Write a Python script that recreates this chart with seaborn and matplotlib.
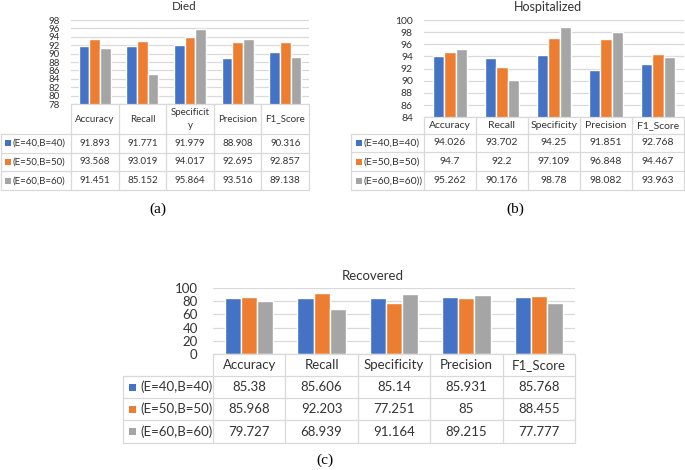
import numpy as np
import pandas as pd
import matplotlib
matplotlib.use("Agg")
import matplotlib.pyplot as plt
import seaborn as sns
from matplotlib.patches import Rectangle

# data
metrics = ["Accuracy", "Recall", "Specificity", "Precision", "F1_Score"]
configs = ["(E=40,B=40)", "(E=50,B=50)", "(E=60,B=60)"]
colors = ["#4472C4", "#ED7D31", "#A5A5A5"]

died_e40 = [91.893, 91.771, 91.979, 88.908, 90.316]
died_e50 = [93.568, 93.019, 94.017, 92.695, 92.857]
died_e60 = [91.451, 85.152, 95.864, 93.516, 89.138]

hosp_e40 = [94.026, 93.702, 94.25, 91.851, 92.768]
hosp_e50 = [94.7, 92.2, 97.109, 96.848, 94.467]
hosp_e60 = [95.262, 90.176, 98.78, 98.082, 93.963]

rec_e40 = [85.38, 85.606, 85.14, 85.931, 85.768]
rec_e50 = [85.968, 92.203, 77.251, 85, 88.455]
rec_e60 = [79.727, 68.939, 91.164, 89.215, 77.777]

W, H = 685, 470
grid_c = "#D9D9D9"
txt_c = "#333333"

sns.set_style("white")
plt.rcParams["font.family"] = ["Lato", "DejaVu Sans"]

fig = plt.figure(figsize=(W / 100, H / 100), dpi=100)

# overlay in pixel coordinates for the data tables and captions
tab = fig.add_axes([0, 0, 1, 1], zorder=5)
tab.set_xlim(0, W)
tab.set_ylim(H, 0)
tab.axis("off")
tab.patch.set_alpha(0)


def px_rect(x0, y0, x1, y1):
    return [x0 / W, 1 - y1 / H, (x1 - x0) / W, (y1 - y0) / H]


def draw_panel(title, title_xy, title_fs, series, heads, labels, ylo, yhi, ystep,
               box, rows_y, lab_x0, fs, tick_pad, sq):
    x0, y_top, x1 = box
    y_base = rows_y[0]
    ax = fig.add_axes(px_rect(x0, y_top, x1, y_base))
    df = pd.DataFrame({
        "metric": metrics * 3,
        "config": np.repeat(configs, len(metrics)),
        "value": np.concatenate(series),
    })
    sns.barplot(data=df, x="metric", y="value", hue="config", palette=colors,
                saturation=1, width=0.67, errorbar=None, legend=False, ax=ax)
    ax.set_xlim(-0.5, len(metrics) - 0.5)
    ax.set_ylim(ylo, yhi)
    ax.set_yticks(np.arange(ylo, yhi + 0.01, ystep))
    ax.yaxis.grid(True, color=grid_c, lw=0.9)
    ax.set_axisbelow(True)
    for s in ax.spines.values():
        s.set_visible(False)
    ax.set_xticks([])
    ax.set_xlabel("")
    ax.set_ylabel("")
    ax.tick_params(axis="y", length=0, pad=tick_pad, labelsize=fs, labelcolor=txt_c)
    ax.patch.set_alpha(0)

    tab.text(title_xy[0], title_xy[1], title, ha="center", va="center",
             fontsize=title_fs, color=txt_c)

    # data table under the chart
    colw = (x1 - x0) / len(metrics)
    edges = [x0 + k * colw for k in range(len(metrics) + 1)]
    lw = 0.9
    tab.plot([x0, x1], [rows_y[0], rows_y[0]], color=grid_c, lw=lw)
    for y in rows_y[1:]:
        tab.plot([lab_x0, x1], [y, y], color=grid_c, lw=lw)
    for x in edges:
        tab.plot([x, x], [rows_y[0], rows_y[-1]], color=grid_c, lw=lw)
    tab.plot([lab_x0, lab_x0], [rows_y[1], rows_y[-1]], color=grid_c, lw=lw)

    hy = (rows_y[0] + rows_y[1]) / 2
    for k, h in enumerate(heads):
        tab.text((edges[k] + edges[k + 1]) / 2, hy, h, ha="center", va="center",
                 fontsize=fs, color=txt_c, linespacing=1.6)
    for r, vals in enumerate(series):
        cy = (rows_y[r + 1] + rows_y[r + 2]) / 2
        tab.add_patch(Rectangle((lab_x0 + sq[0], cy - sq[1] / 2), sq[1], sq[1],
                                color=colors[r], lw=0))
        tab.text(lab_x0 + sq[2], cy, labels[r], ha="left", va="center",
                 fontsize=fs, color=txt_c)
        for k, v in enumerate(vals):
            tab.text((edges[k] + edges[k + 1]) / 2, cy, f"{v:g}", ha="center",
                     va="center", fontsize=fs, color=txt_c)


draw_panel("Died", (184, 7), 8.5, [died_e40, died_e50, died_e60],
           ["Accuracy", "Recall", "Specificit\ny", "Precision", "F1_Score"],
           configs, 78, 98, 2,
           (71, 20, 309), [104, 134, 152.7, 171.3, 190], 1, 7, 8, (4, 6, 12))

draw_panel("Hospitalized", (548, 7), 9, [hosp_e40, hosp_e50, hosp_e60],
           metrics, ["(E=40,B=40)", "(E=50,B=50)", "(E=60,B=60))"], 84, 100, 2,
           (424, 20, 684), [117.3, 133.5, 152.3, 171.2, 190], 351, 7.5, 8, (5, 6, 13))

draw_panel("Recovered", (373, 276), 9.5, [rec_e40, rec_e50, rec_e60],
           metrics, configs, 0, 100, 20,
           (213, 288, 575), [354, 376, 398, 420, 443], 123, 9.5, 11, (6, 7, 17))

for lab, x, y in [("(a)", 158, 209), ("(b)", 515, 209), ("(c)", 325, 460)]:
    tab.text(x, y, lab, ha="center", va="center", fontsize=11,
             family="Liberation Serif", color="black")

fig.savefig("out.png", dpi=100)
